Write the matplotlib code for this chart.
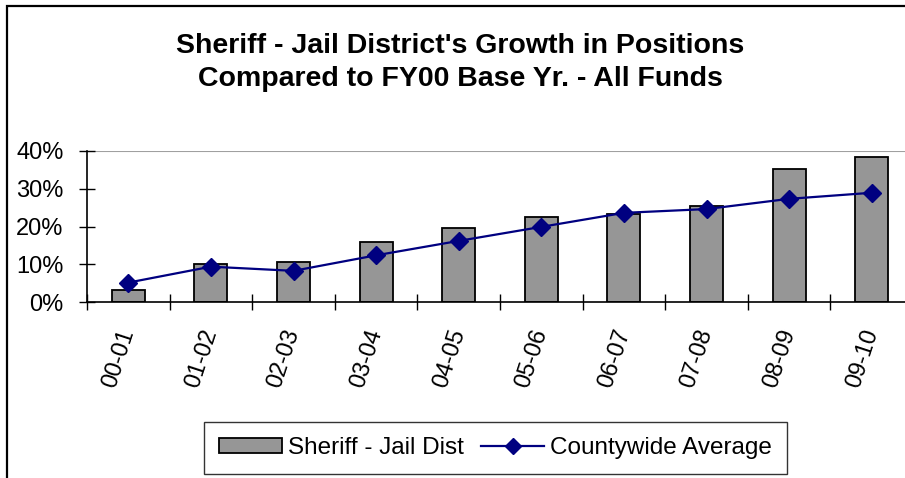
import numpy as np
import matplotlib
matplotlib.use('Agg')
import matplotlib.pyplot as plt
from matplotlib.patches import Rectangle, Patch
from matplotlib.lines import Line2D
from matplotlib.ticker import FuncFormatter, FixedLocator

plt.rcParams['font.family'] = ['Liberation Sans', 'DejaVu Sans']

# ---- data ----
years = ['00-01', '01-02', '02-03', '03-04', '04-05',
         '05-06', '06-07', '07-08', '08-09', '09-10']
sheriff_jail = [3.2, 10.1, 10.6, 15.8, 19.5, 22.6, 23.2, 25.3, 35.2, 38.4]
county_avg = [5.2, 9.4, 8.3, 12.4, 16.2, 19.9, 23.6, 24.6, 27.3, 28.9]

BAR = '#969696'
NAVY = '#000080'

fig = plt.figure(figsize=(9.05, 4.78), dpi=100)

# outer chart border (cropped on right / bottom in the original)
fig.patches.append(Rectangle((7/905, -0.2), 1.2, 1.2 - 6/478,
                             transform=fig.transFigure, fill=False,
                             edgecolor='black', linewidth=1.6))

ax = fig.add_axes([87/905, 1 - 302.3/478, 826/905, 151.6/478])
x = np.arange(len(years)) + 0.5
ax.bar(x, sheriff_jail, width=0.40, color=BAR, edgecolor='black', linewidth=1.3, zorder=2)
ax.plot(x, county_avg, color=NAVY, lw=1.6, marker='D', markersize=9, zorder=3)

ax.set_xlim(0, 10)
ax.set_ylim(0, 40)
ax.set_yticks([0, 10, 20, 30, 40])
ax.yaxis.set_major_formatter(FuncFormatter(lambda v, p: f'{v:.0f}%'))
ax.axhline(40, color='#a0a0a0', lw=1.5, zorder=1)

# category boundary ticks + centred labels
ax.xaxis.set_minor_locator(FixedLocator(np.arange(0, 11)))
ax.set_xticks(x)
ax.set_xticklabels(years, rotation=72, rotation_mode='anchor', ha='right', va='center')
ax.tick_params(axis='x', which='major', length=0, pad=20, labelsize=17)
ax.tick_params(axis='x', which='minor', direction='inout', length=11.5, width=1)
ax.tick_params(axis='y', direction='inout', length=11.5, width=1, labelsize=17, pad=11)

for s in ['top', 'right']:
    ax.spines[s].set_visible(False)
ax.spines['left'].set_linewidth(1.2)
ax.spines['bottom'].set_linewidth(1.2)

fig.text(460/905, 1 - 46/478, "Sheriff - Jail District's Growth in Positions",
         ha='center', va='center', fontsize=20.5, fontweight='bold')
fig.text(460/905, 1 - 79/478, "Compared to FY00 Base Yr. - All Funds",
         ha='center', va='center', fontsize=20.5, fontweight='bold')

handles = [Patch(facecolor=BAR, edgecolor='black', linewidth=1.3),
           Line2D([0], [0], color=NAVY, lw=1.6, marker='D', markersize=8)]
leg = fig.legend(handles, ['Sheriff - Jail Dist', 'Countywide Average'],
                 loc='center', bbox_to_anchor=(495.5/905, 1 - 448/478), ncol=2,
                 fontsize=17.5, frameon=True, fancybox=False, handlelength=2.6,
                 handleheight=0.6, handletextpad=0.25, columnspacing=0.7,
                 borderpad=0.6, borderaxespad=0)
leg.get_frame().set_edgecolor('black')
leg.get_frame().set_linewidth(1.0)

fig.savefig('out.png', dpi=100)
